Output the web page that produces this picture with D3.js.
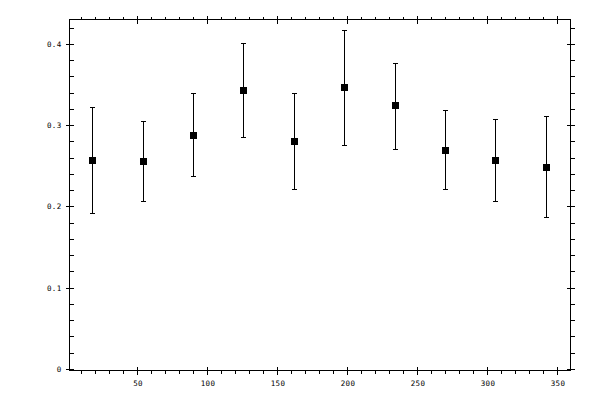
<!DOCTYPE html>
<html>
<head>
<meta charset="utf-8">
<script src="https://cdn.jsdelivr.net/npm/d3@7"></script>
<style>
  body { margin: 0; background: #fff; }
  svg { display: block; }
  .tick text { font-family: "DejaVu Sans Mono", monospace; font-size: 7.5px; fill: #000; letter-spacing: 0.3px; }
  .tick line, .frame { stroke: #000; stroke-width: 1; shape-rendering: crispEdges; }
  .bar { stroke: #000; stroke-width: 1; shape-rendering: crispEdges; }
</style>
</head>
<body>
<div id="chart"></div>
<script>
// data
var angles = [18, 54, 90, 126, 162, 198, 234, 270, 306, 342];
var means  = [0.257, 0.256, 0.288, 0.343, 0.281, 0.347, 0.325, 0.270, 0.257, 0.249];
var uppers = [0.322, 0.305, 0.340, 0.401, 0.340, 0.417, 0.377, 0.318, 0.308, 0.311];
var lowers = [0.192, 0.207, 0.238, 0.286, 0.222, 0.276, 0.271, 0.222, 0.207, 0.187];

var xMajor = [50, 100, 150, 200, 250, 300, 350];
var xMinor = [10, 20, 30, 40, 60, 70, 80, 90, 110, 120, 130, 140, 160, 170, 180, 190,
              210, 220, 230, 240, 260, 270, 280, 290, 310, 320, 330, 340];
var yMajor = [0, 0.1, 0.2, 0.3, 0.4];
var yMinor = [0.02, 0.04, 0.06, 0.08, 0.12, 0.14, 0.16, 0.18, 0.22, 0.24, 0.26, 0.28,
              0.32, 0.34, 0.36, 0.38, 0.42];

var svgWidth = 600;
var svgHeight = 400;
var plotLeft = 69.5, plotRight = 570.5, plotTop = 19.5, plotBottom = 370.5;

var svg = d3.select("#chart")
  .append("svg")
  .attr("width", svgWidth)
  .attr("height", svgHeight);

var xScale = d3.scaleLinear()
  .domain([1.43, 359.3])
  .range([plotLeft, plotRight]);

var yScale = d3.scaleLinear()
  .domain([-0.002, 0.43])
  .range([plotBottom, plotTop]);

function noDomain(g) { g.select(".domain").remove(); }

// bottom axis: labels + outward major/minor, inward major half
svg.append("g").attr("transform", `translate(0,${plotBottom})`)
  .call(d3.axisBottom(xScale).tickValues(xMajor).tickSize(4).tickPadding(6).tickFormat(d => d))
  .call(noDomain);
svg.append("g").attr("transform", `translate(0,${plotBottom})`)
  .call(d3.axisBottom(xScale).tickValues(xMajor).tickSize(-4).tickFormat(""))
  .call(noDomain);
svg.append("g").attr("transform", `translate(0,${plotBottom})`)
  .call(d3.axisBottom(xScale).tickValues(xMinor).tickSize(3).tickFormat(""))
  .call(noDomain);

// top axis
svg.append("g").attr("transform", `translate(0,${plotTop})`)
  .call(d3.axisTop(xScale).tickValues(xMajor).tickSize(4).tickFormat(""))
  .call(noDomain);
svg.append("g").attr("transform", `translate(0,${plotTop})`)
  .call(d3.axisTop(xScale).tickValues(xMajor).tickSize(-4).tickFormat(""))
  .call(noDomain);
svg.append("g").attr("transform", `translate(0,${plotTop})`)
  .call(d3.axisTop(xScale).tickValues(xMinor).tickSize(3).tickFormat(""))
  .call(noDomain);

// left axis: labels, major crossing, minor pointing inward
svg.append("g").attr("transform", `translate(${plotLeft},0)`)
  .call(d3.axisLeft(yScale).tickValues(yMajor).tickSize(4).tickPadding(4).tickFormat(d => String(d)))
  .call(noDomain);
svg.append("g").attr("transform", `translate(${plotLeft},0)`)
  .call(d3.axisLeft(yScale).tickValues(yMajor).tickSize(-4).tickFormat(""))
  .call(noDomain);
svg.append("g").attr("transform", `translate(${plotLeft},0)`)
  .call(d3.axisLeft(yScale).tickValues(yMinor).tickSize(-4).tickFormat(""))
  .call(noDomain);

// right axis: major crossing, minor pointing outward
svg.append("g").attr("transform", `translate(${plotRight},0)`)
  .call(d3.axisRight(yScale).tickValues(yMajor).tickSize(4).tickFormat(""))
  .call(noDomain);
svg.append("g").attr("transform", `translate(${plotRight},0)`)
  .call(d3.axisRight(yScale).tickValues(yMajor).tickSize(-4).tickFormat(""))
  .call(noDomain);
svg.append("g").attr("transform", `translate(${plotRight},0)`)
  .call(d3.axisRight(yScale).tickValues(yMinor).tickSize(4).tickFormat(""))
  .call(noDomain);

svg.append("rect")
  .attr("class", "frame")
  .attr("x", plotLeft).attr("y", plotTop)
  .attr("width", plotRight - plotLeft).attr("height", plotBottom - plotTop)
  .attr("fill", "none");

var points = angles.map((a, i) => ({ x: a, m: means[i], hi: uppers[i], lo: lowers[i] }));

// pixel column of each point
var px = d => Math.floor(xScale(d.x));

var bars = svg.append("g");

bars.selectAll(".stem")
  .data(points)
  .enter()
  .append("line")
  .attr("class", "bar")
  .attr("x1", d => px(d) + 0.5)
  .attr("x2", d => px(d) + 0.5)
  .attr("y1", d => yScale(d.hi))
  .attr("y2", d => yScale(d.lo));

bars.selectAll(".capHi")
  .data(points)
  .enter()
  .append("line")
  .attr("class", "bar")
  .attr("x1", d => px(d) - 2)
  .attr("x2", d => px(d) + 3)
  .attr("y1", d => Math.round(yScale(d.hi)) + 0.5)
  .attr("y2", d => Math.round(yScale(d.hi)) + 0.5);

bars.selectAll(".capLo")
  .data(points)
  .enter()
  .append("line")
  .attr("class", "bar")
  .attr("x1", d => px(d) - 2)
  .attr("x2", d => px(d) + 3)
  .attr("y1", d => Math.round(yScale(d.lo)) + 0.5)
  .attr("y2", d => Math.round(yScale(d.lo)) + 0.5);

bars.selectAll(".marker")
  .data(points)
  .enter()
  .append("rect")
  .attr("x", d => px(d) - 3)
  .attr("y", d => Math.round(yScale(d.m)) - 3)
  .attr("width", 7)
  .attr("height", 7)
  .attr("fill", "#000")
  .attr("shape-rendering", "crispEdges");
</script>
</body>
</html>
